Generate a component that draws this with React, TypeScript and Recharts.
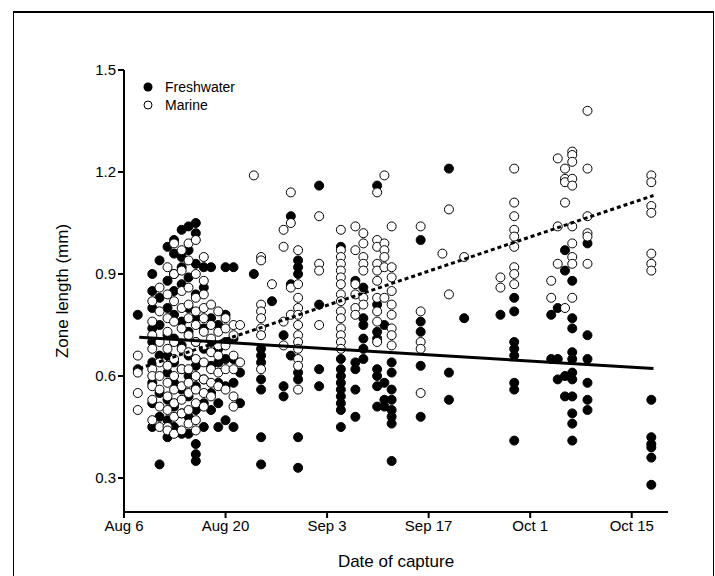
import React from "react";
import { ScatterChart, Scatter, XAxis, YAxis } from "recharts";

// days counted from Aug 6
const xTicks = [0, 14, 28, 42, 56, 70];
const xTickLabels = ["Aug 6", "Aug 20", "Sep 3", "Sep 17", "Oct 1", "Oct 15"];
const yTicks = [0.3, 0.6, 0.9, 1.2, 1.5];

// [day, zone lengths]
const freshCols: [number, number[]][] = [
  [1.9, [0.78, 0.62]],
  [3.9, [0.9, 0.85, 0.8, 0.74, 0.7, 0.64, 0.58, 0.52, 0.45]],
  [4.9, [0.94, 0.83, 0.75, 0.66, 0.55, 0.48, 0.34]],
  [6.0, [0.98, 0.88, 0.8, 0.72, 0.66, 0.61, 0.53, 0.47, 0.42]],
  [6.9, [1.0, 0.96, 0.9, 0.85, 0.78, 0.71, 0.64, 0.58, 0.51, 0.45]],
  [7.95, [1.03, 0.95, 0.92, 0.87, 0.76, 0.69, 0.62, 0.56, 0.49, 0.43]],
  [8.9, [1.04, 0.97, 0.89, 0.8, 0.73, 0.66, 0.6, 0.54, 0.48, 0.43]],
  [9.9, [1.05, 1.02, 0.93, 0.84, 0.77, 0.7, 0.63, 0.57, 0.5, 0.4, 0.37, 0.35]],
  [11.0, [0.92, 0.86, 0.74, 0.68, 0.59, 0.52, 0.45]],
  [12.0, [0.92, 0.77, 0.7, 0.63, 0.55, 0.5]],
  [13.0, [0.75, 0.68, 0.64, 0.58, 0.52, 0.45]],
  [14.0, [0.92, 0.78, 0.7, 0.65, 0.57, 0.47]],
  [15.1, [0.92, 0.71, 0.65, 0.58, 0.45]],
  [16.0, [0.61, 0.52]],
  [17.9, [0.9]],
  [18.9, [0.68, 0.66, 0.64, 0.59, 0.56, 0.42, 0.34]],
  [20.4, [0.82]],
  [22.0, [0.72, 0.57, 0.54]],
  [23.0, [1.07, 0.87, 0.66]],
  [24.0, [0.94, 0.92, 0.9, 0.61, 0.59, 0.42, 0.33]],
  [26.9, [1.16, 0.81, 0.62, 0.57]],
  [29.9, [0.98, 0.65, 0.62, 0.6, 0.58, 0.56, 0.54, 0.52, 0.5, 0.45]],
  [31.9, [0.88, 0.64, 0.62, 0.56, 0.48]],
  [33.0, [0.86, 0.77, 0.75, 0.71, 0.68, 0.65]],
  [34.9, [1.16, 0.81, 0.73, 0.71, 0.62, 0.6, 0.57, 0.51]],
  [35.9, [0.75, 0.58, 0.53, 0.51]],
  [36.9, [0.64, 0.61, 0.56, 0.53, 0.5, 0.48, 0.46, 0.35]],
  [40.9, [1.0, 0.76, 0.73, 0.63, 0.48]],
  [44.8, [1.21, 0.61, 0.53]],
  [46.9, [0.77]],
  [51.9, [0.78]],
  [53.8, [0.83, 0.79, 0.7, 0.68, 0.66, 0.58, 0.56, 0.41]],
  [58.9, [0.78, 0.65]],
  [59.8, [0.8, 0.65, 0.59]],
  [60.8, [0.97, 0.91, 0.6, 0.54]],
  [61.8, [0.88, 0.77, 0.74, 0.67, 0.65, 0.61, 0.59, 0.54, 0.49, 0.46, 0.41]],
  [63.9, [0.99, 0.72, 0.65, 0.58, 0.53, 0.5]],
  [72.7, [0.53, 0.42, 0.4, 0.39, 0.36, 0.28]],
];

const marineCols: [number, number[]][] = [
  [1.9, [0.66, 0.61, 0.55, 0.5]],
  [3.9, [0.82, 0.76, 0.72, 0.68, 0.62, 0.6, 0.57, 0.53, 0.47]],
  [4.9, [0.86, 0.79, 0.7, 0.64, 0.6, 0.56, 0.51, 0.45]],
  [6.0, [0.92, 0.84, 0.77, 0.73, 0.68, 0.63, 0.58, 0.54, 0.5, 0.45, 0.44]],
  [6.9, [0.99, 0.9, 0.82, 0.76, 0.7, 0.65, 0.6, 0.56, 0.52, 0.48, 0.43]],
  [7.95, [0.97, 0.91, 0.85, 0.8, 0.74, 0.68, 0.62, 0.57, 0.53, 0.49, 0.44]],
  [8.9, [0.99, 0.94, 0.86, 0.81, 0.77, 0.72, 0.67, 0.62, 0.58, 0.55, 0.5, 0.46]],
  [9.9, [1.0, 0.9, 0.83, 0.79, 0.75, 0.7, 0.65, 0.6, 0.56, 0.52, 0.47, 0.44]],
  [11.0, [0.95, 0.88, 0.84, 0.8, 0.77, 0.73, 0.69, 0.64, 0.59, 0.55, 0.51]],
  [12.0, [0.81, 0.75, 0.71, 0.67, 0.62, 0.58, 0.54]],
  [13.0, [0.79, 0.73, 0.69, 0.66, 0.61, 0.57]],
  [14.0, [0.77, 0.74, 0.69, 0.62, 0.56]],
  [15.1, [0.75, 0.72, 0.66, 0.62, 0.54, 0.51]],
  [16.0, [0.75, 0.64]],
  [17.9, [1.19]],
  [18.9, [0.95, 0.94, 0.81, 0.79, 0.77, 0.74, 0.72, 0.62]],
  [20.4, [0.87]],
  [22.0, [1.03, 0.98, 0.76, 0.69]],
  [23.0, [1.14, 1.05, 0.86, 0.78]],
  [24.0, [0.97, 0.87, 0.83, 0.8, 0.78, 0.75, 0.72, 0.7, 0.68, 0.65, 0.63, 0.56]],
  [26.9, [1.07, 0.93, 0.91, 0.75]],
  [29.9, [1.03, 0.97, 0.95, 0.93, 0.91, 0.89, 0.87, 0.84, 0.82, 0.79, 0.77, 0.74, 0.72, 0.7, 0.68]],
  [31.9, [1.04, 0.97, 0.87, 0.84, 0.8, 0.78]],
  [33.0, [1.02, 0.99, 0.95, 0.93, 0.91, 0.83, 0.81]],
  [34.9, [1.14, 1.0, 0.98, 0.93, 0.91, 0.88, 0.83, 0.79, 0.76, 0.7]],
  [35.9, [1.19, 0.99, 0.97, 0.95, 0.92, 0.83]],
  [36.9, [1.04, 0.92, 0.89, 0.85, 0.81, 0.78, 0.74, 0.72, 0.69]],
  [40.9, [1.04, 0.79, 0.7, 0.68, 0.55]],
  [43.9, [0.96]],
  [44.8, [1.09, 0.84]],
  [46.9, [0.95]],
  [51.9, [0.89, 0.86]],
  [53.8, [1.21, 1.11, 1.07, 1.03, 1.01, 0.98, 0.92, 0.9, 0.87]],
  [58.9, [0.88, 0.83]],
  [59.8, [1.24, 1.04, 0.93]],
  [60.8, [1.21, 1.18, 1.17, 1.11, 0.8]],
  [61.8, [1.26, 1.25, 1.23, 1.18, 1.16, 1.04, 0.99, 0.95, 0.93, 0.83]],
  [63.9, [1.38, 1.21, 1.07, 1.02, 1.01, 0.93]],
  [72.7, [1.19, 1.17, 1.1, 1.08, 0.96, 0.93, 0.91]],
];

const freshFit = [{ x: 2.1, y: 0.714 }, { x: 73.0, y: 0.622 }];
const marineFit = [{ x: 2.1, y: 0.622 }, { x: 73.0, y: 1.131 }];

const toPoints = (cols: [number, number[]][]) =>
  cols.flatMap(([x, vals]) => vals.map((y) => ({ x, y })));

const font = "Arial, 'Liberation Sans', sans-serif";

const Dot = ({ cx, cy, fill }: any) =>
  cx == null ? null : <circle cx={cx} cy={cy} r={4.5} fill={fill} stroke="#000" strokeWidth={1} />;

export default function App() {
  return (
    <div
      style={{
        position: "absolute",
        left: 13,
        top: 11,
        width: 699,
        height: 563,
        border: "1px solid #000",
        borderTopWidth: 2,
        background: "#fff",
        fontFamily: font,
      }}
    >
      <ScatterChart width={699} height={563} margin={{ top: 57, right: 45, bottom: 2, left: 0 }}>
        <XAxis
          type="number"
          dataKey="x"
          domain={[0, 75]}
          ticks={xTicks}
          tickFormatter={(v) => xTickLabels[xTicks.indexOf(v)] ?? ""}
          tick={{ fill: "#000", fontSize: 15, fontFamily: font }}
          tickLine={{ stroke: "#000", strokeWidth: 2 }}
          axisLine={{ stroke: "#000", strokeWidth: 2 }}
          tickSize={6}
          height={62}
          label={{ value: "Date of capture", position: "insideBottom", offset: 7, fill: "#000", fontSize: 17, fontFamily: font }}
        />
        <YAxis
          type="number"
          dataKey="y"
          domain={[0.2, 1.5]}
          ticks={yTicks}
          tickFormatter={(v) => v.toFixed(1)}
          tick={{ fill: "#000", fontSize: 15, fontFamily: font }}
          tickLine={{ stroke: "#000", strokeWidth: 2 }}
          axisLine={{ stroke: "#000", strokeWidth: 2 }}
          tickSize={6}
          width={110}
          label={{ value: "Zone length (mm)", angle: -90, position: "insideLeft", offset: 48, fill: "#000", fontSize: 17, fontFamily: font, style: { textAnchor: "middle" } }}
        />
        <Scatter data={toPoints(freshCols)} shape={(p: any) => <Dot {...p} fill="#000" />} isAnimationActive={false} />
        <Scatter data={toPoints(marineCols)} shape={(p: any) => <Dot {...p} fill="#fff" />} isAnimationActive={false} />
        <Scatter data={freshFit} line={{ stroke: "#000", strokeWidth: 3 }} shape={() => null} isAnimationActive={false} />
        <Scatter data={marineFit} line={{ stroke: "#000", strokeWidth: 3, strokeDasharray: "4 3" }} shape={() => null} isAnimationActive={false} />
      </ScatterChart>
      <div style={{ position: "absolute", left: 128, top: 65, fontSize: 14, lineHeight: "18px" }}>
        <div style={{ display: "flex", alignItems: "center" }}>
          <svg width={14} height={14}><circle cx={6} cy={7} r={4.5} fill="#000" /></svg>
          <span style={{ marginLeft: 9 }}>Freshwater</span>
        </div>
        <div style={{ display: "flex", alignItems: "center" }}>
          <svg width={14} height={14}><circle cx={6} cy={7} r={4} fill="#fff" stroke="#000" /></svg>
          <span style={{ marginLeft: 9 }}>Marine</span>
        </div>
      </div>
    </div>
  );
}
